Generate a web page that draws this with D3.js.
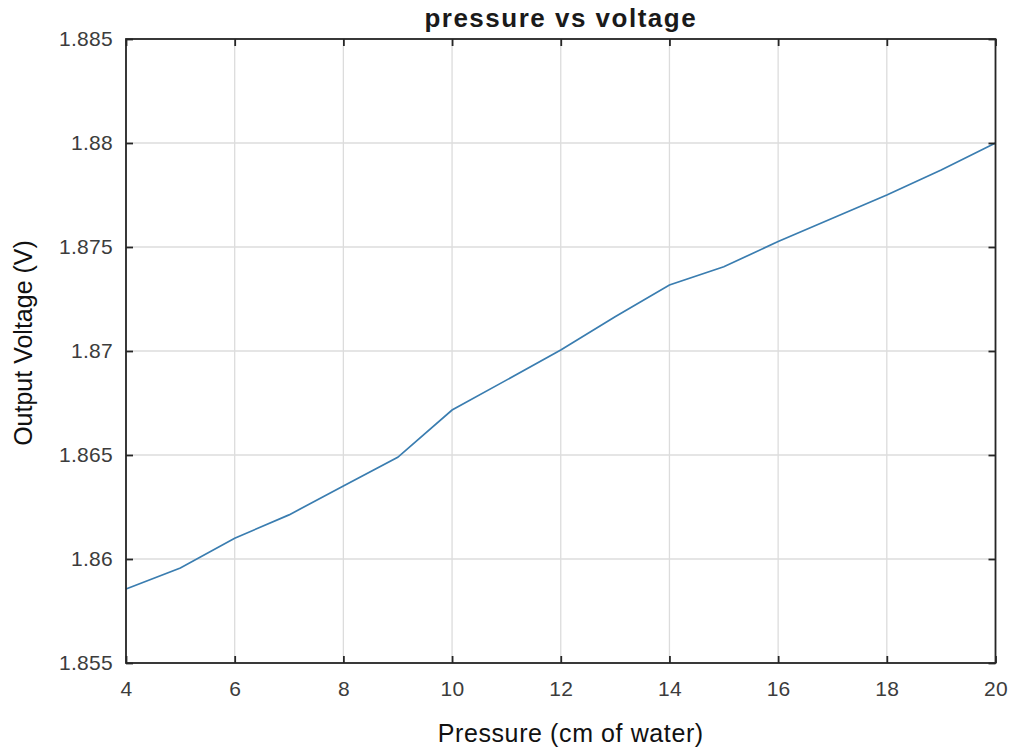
<!DOCTYPE html>
<html>
<head>
<meta charset="utf-8">
<script src="https://cdn.jsdelivr.net/npm/d3@7"></script>
<style>
  html, body { margin: 0; padding: 0; background: #fff; }
  svg { display: block; font-family: "Liberation Sans", Arial, sans-serif; }
</style>
</head>
<body>
<svg id="chart" width="1013" height="749"></svg>
<script>
// Measured pressure (cm of water) and sensor output voltage (V)
const pressure = [4, 5, 6, 7, 8, 9, 10, 11, 12, 13, 14, 15, 16, 17, 18, 19, 20];
const voltage = [1.85856, 1.85957, 1.86100, 1.86212, 1.86351, 1.86489, 1.86716, 1.86860,
                 1.87005, 1.87165, 1.87317, 1.87405, 1.87526, 1.87638, 1.87750, 1.87870, 1.88000];
const xTicks = [4, 6, 8, 10, 12, 14, 16, 18, 20];
const yTicks = [1.855, 1.86, 1.865, 1.87, 1.875, 1.88, 1.885];

const svg = d3.select("#chart");
const plotL = 126, plotR = 995.5, plotT = 39, plotB = 663;

const x = d3.scaleLinear().domain([4, 20]).range([plotL, plotR]);
const y = d3.scaleLinear().domain([1.855, 1.885]).range([plotB, plotT]);

// grid
svg.append("g").selectAll("line").data(xTicks).join("line")
  .attr("x1", d => x(d)).attr("x2", d => x(d))
  .attr("y1", plotT).attr("y2", plotB)
  .attr("stroke", "#dcdcdc").attr("stroke-width", 1.3);
svg.append("g").selectAll("line").data(yTicks).join("line")
  .attr("x1", plotL).attr("x2", plotR)
  .attr("y1", d => y(d)).attr("y2", d => y(d))
  .attr("stroke", "#dcdcdc").attr("stroke-width", 1.3);

// data line
const line = d3.line().x((d, i) => x(pressure[i])).y(d => y(d));
svg.append("path").datum(voltage)
  .attr("d", line)
  .attr("fill", "none")
  .attr("stroke", "#3a7db0")
  .attr("stroke-width", 1.7);

// axes (ticks point inward, as in a boxed plot)
const axisColor = "#262626";
const xAxis = d3.axisBottom(x).tickValues(xTicks).tickSize(-7).tickPadding(18).tickFormat(d3.format("d"));
const xAxisTop = d3.axisTop(x).tickValues(xTicks).tickSize(-7).tickFormat("");
const yAxis = d3.axisLeft(y).tickValues(yTicks).tickSize(-7).tickPadding(13).tickFormat(d => String(+d.toFixed(3)));
const yAxisRight = d3.axisRight(y).tickValues(yTicks).tickSize(-7).tickFormat("");

function style(g) {
  g.select(".domain").remove();
  g.selectAll(".tick line").attr("stroke", axisColor).attr("stroke-width", 1.8);
  g.selectAll(".tick text").attr("fill", "#3c3c3c").attr("font-size", 21)
    .attr("letter-spacing", 0.3)
    .attr("font-family", "Liberation Sans, Arial, sans-serif");
}
svg.append("g").attr("transform", `translate(0,${plotB})`).call(xAxis).call(style);
svg.append("g").attr("transform", `translate(0,${plotT})`).call(xAxisTop).call(style);
svg.append("g").attr("transform", `translate(${plotL},0)`).call(yAxis).call(style);
svg.append("g").attr("transform", `translate(${plotR},0)`).call(yAxisRight).call(style);

// frame
svg.append("rect")
  .attr("x", plotL).attr("y", plotT)
  .attr("width", plotR - plotL).attr("height", plotB - plotT)
  .attr("fill", "none").attr("stroke", axisColor).attr("stroke-width", 1.8);

// title and axis labels
svg.append("text")
  .attr("x", (plotL + plotR) / 2).attr("y", 27)
  .attr("text-anchor", "middle")
  .attr("font-size", 26).attr("font-weight", "bold").attr("fill", "#1a1a1a")
  .attr("letter-spacing", 1.5)
  .text("pressure vs voltage");
svg.append("text")
  .attr("x", (plotL + plotR) / 2 + 10).attr("y", 742)
  .attr("text-anchor", "middle")
  .attr("font-size", 25).attr("fill", "#111")
  .attr("letter-spacing", 0.6)
  .text("Pressure (cm of water)");
svg.append("text")
  .attr("transform", `translate(32,${(plotT + plotB) / 2 - 8}) rotate(-90)`)
  .attr("text-anchor", "middle")
  .attr("font-size", 25).attr("fill", "#111")
  .text("Output Voltage (V)");
</script>
</body>
</html>
